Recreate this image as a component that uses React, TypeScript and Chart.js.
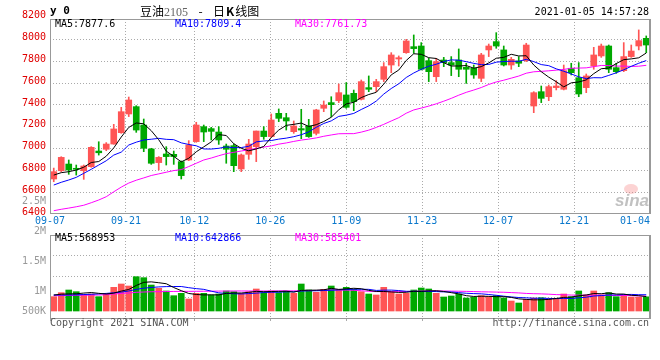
import React, { useEffect, useRef } from 'react';
import { Chart, registerables } from 'chart.js';

Chart.register(...registerables);

// ---------------- data ----------------
const DATES = [
  '09-07','09-08','09-09','09-10','09-11','09-14','09-15','09-16','09-17','09-18',
  '09-21','09-22','09-23','09-24','09-25','09-28','09-29','09-30','10-09','10-12',
  '10-13','10-14','10-15','10-16','10-19','10-20','10-21','10-22','10-23','10-26',
  '10-27','10-28','10-29','10-30','11-02','11-03','11-04','11-05','11-06','11-09',
  '11-10','11-11','11-12','11-13','11-16','11-17','11-18','11-19','11-20','11-23',
  '11-24','11-25','11-26','11-27','11-30','12-01','12-02','12-03','12-04','12-07',
  '12-08','12-09','12-10','12-11','12-14','12-15','12-16','12-17','12-18','12-21',
  '12-22','12-23','12-24','12-25','12-28','12-29','12-30','12-31','01-04','01-05',
];

const OPEN = [
  6722,6798,6859,6820,6798,6835,6978,6994,7042,7146,
  7317,7384,7216,6997,6872,6951,6948,6881,6896,7064,
  7201,7183,7152,7024,7027,6814,6948,7018,7161,7110,
  7323,7283,7155,7183,7207,7140,7369,7421,7439,7491,
  7506,7451,7558,7567,7634,7765,7820,7878,7933,7939,
  7805,7658,7811,7787,7811,7744,7735,7643,7903,7979,
  7903,7765,7802,7805,7390,7521,7475,7558,7543,7735,
  7649,7558,7756,7848,7939,7741,7713,7842,7939,8009,
];
const HIGH = [
  6822,6926,6896,6850,6850,7018,7063,7055,7222,7378,
  7472,7393,7271,7003,6927,7018,6978,6887,7073,7241,
  7216,7195,7201,7042,7042,6951,7085,7161,7201,7317,
  7363,7323,7253,7360,7268,7360,7436,7475,7591,7604,
  7536,7628,7665,7634,7787,7878,7848,8000,8040,7970,
  7826,7826,7835,7842,7912,7781,7765,7872,7957,8061,
  7939,7835,7842,7964,7521,7573,7582,7622,7765,7781,
  7787,7683,7927,7957,7948,7781,7970,7948,8086,8031,
];
const LOW = [
  6697,6789,6765,6758,6719,6829,6941,6981,7040,7140,
  7293,7149,6972,6856,6805,6850,6856,6722,6890,7058,
  7064,7079,7039,6866,6789,6789,6902,6881,7085,7103,
  7247,7170,7140,7091,7103,7125,7338,7293,7421,7369,
  7347,7445,7521,7521,7613,7695,7756,7872,7872,7720,
  7613,7613,7750,7668,7658,7597,7643,7613,7842,7918,
  7756,7726,7750,7796,7329,7421,7439,7537,7537,7674,
  7475,7512,7726,7835,7695,7689,7704,7835,7903,7878,
];
const CLOSE = [
  6789,6920,6804,6811,6841,7012,6962,7042,7180,7338,
  7445,7170,7003,6866,6920,6927,6927,6753,7033,7216,
  7152,7158,7079,6994,6844,6942,7042,7161,7110,7262,
  7277,7253,7207,7170,7110,7354,7399,7402,7512,7378,
  7430,7613,7543,7613,7750,7857,7832,7985,7915,7726,
  7704,7796,7787,7765,7726,7726,7674,7857,7939,7939,
  7765,7817,7781,7948,7512,7460,7567,7573,7713,7695,
  7500,7665,7857,7939,7726,7704,7842,7893,7988,7948,
];

const MA5 = [
  6758,6780,6789,6804,6830,6873,6882,6931,7007,7106,
  7194,7235,7227,7164,7081,6977,6929,6879,6912,6971,
  7016,7062,7128,7120,7045,7003,6980,6997,7020,7103,
  7170,7213,7222,7234,7203,7219,7248,7287,7355,7409,
  7424,7467,7495,7515,7590,7675,7719,7807,7868,7863,
  7832,7825,7786,7756,7756,7760,7736,7750,7784,7827,
  7835,7863,7848,7850,7765,7704,7654,7612,7565,7602,
  7610,7629,7686,7731,7737,7778,7814,7821,7831,7875,
];
const MA10 = [
  6667,6692,6713,6737,6774,6811,6850,6889,6941,6968,
  7033,7059,7079,7086,7094,7085,7082,7053,7038,7026,
  6997,6996,7003,7016,7008,7010,7021,7062,7070,7074,
  7087,7096,7109,7127,7153,7195,7230,7254,7295,7306,
  7322,7358,7391,7435,7499,7550,7593,7651,7692,7726,
  7754,7772,7797,7812,7809,7796,7780,7768,7770,7791,
  7797,7800,7799,7817,7796,7769,7759,7730,7708,7683,
  7657,7641,7649,7648,7670,7694,7721,7753,7781,7806,
];
const MA30 = [
  6432,6445,6456,6468,6482,6505,6530,6560,6605,6648,
  6685,6711,6732,6754,6769,6784,6799,6808,6836,6866,
  6896,6914,6935,6954,6966,6978,6990,7002,7014,7025,
  7041,7052,7066,7078,7087,7098,7113,7125,7136,7137,
  7137,7151,7169,7194,7222,7253,7283,7324,7354,7371,
  7389,7410,7434,7460,7489,7515,7536,7559,7587,7610,
  7626,7645,7664,7690,7703,7707,7712,7718,7725,7735,
  7737,7739,7750,7761,7760,7755,7755,7752,7754,7762,
];

const VOLUME = [
  566000,724000,829000,763000,658000,671000,566000,697000,934000,1066000,
  987000,1355000,1316000,1026000,895000,790000,605000,697000,474000,697000,
  697000,632000,671000,790000,763000,697000,763000,869000,724000,790000,
  724000,790000,697000,1066000,829000,737000,855000,987000,855000,934000,
  855000,763000,671000,632000,934000,763000,671000,697000,829000,908000,
  869000,697000,553000,592000,671000,513000,540000,605000,566000,605000,
  513000,395000,316000,461000,513000,526000,474000,500000,671000,566000,
  790000,632000,790000,632000,724000,566000,632000,550000,545000,560000,
];
const VOL_MA5 = [
  630000,665000,675000,680000,708000,729000,697000,671000,705000,787000,
  850000,1008000,1132000,1150000,1116000,1076000,926000,803000,692000,653000,
  634000,639000,634000,697000,711000,711000,737000,776000,763000,769000,
  774000,779000,745000,813000,821000,824000,837000,895000,853000,874000,
  897000,879000,816000,771000,771000,753000,734000,739000,779000,774000,
  795000,800000,771000,724000,676000,605000,574000,584000,579000,566000,
  566000,537000,479000,458000,440000,442000,458000,495000,537000,547000,
  600000,632000,690000,682000,714000,669000,669000,621000,603000,571000,
];
const VOL_MA10 = [
  632000,632000,632000,640000,650000,660000,675000,695000,720000,747000,
  790000,853000,901000,928000,951000,963000,967000,967000,921000,884000,
  855000,783000,718000,695000,682000,672000,688000,705000,730000,740000,
  742000,758000,761000,788000,795000,799000,808000,820000,833000,847000,
  861000,858000,855000,812000,822000,825000,807000,778000,775000,772000,
  774000,767000,755000,751000,725000,700000,687000,678000,651000,621000,
  586000,555000,532000,519000,503000,504000,497000,487000,497000,494000,
  521000,545000,592000,609000,631000,635000,650000,655000,643000,642000,
];
const VOL_MA30 = [
  605000,610000,615000,620000,625000,628000,632000,645000,670000,695000,
  711000,737000,750000,760000,763000,768000,772000,775000,776000,778000,
  780000,782000,786000,788000,790000,790000,790000,790000,790000,790000,
  796000,798000,793000,804000,809000,811000,821000,831000,828000,824000,
  819000,800000,778000,765000,766000,765000,768000,768000,779000,786000,
  792000,794000,790000,784000,781000,775000,767000,758000,753000,747000,
  740000,727000,714000,694000,683000,676000,664000,647000,641000,629000,
  627000,622000,626000,626000,619000,613000,612000,607000,597000,586000,
];

const X_LABEL_INDEX = [0, 10, 19, 29, 39, 49, 59, 69, 78];
const X_GRID_INDEX = [0, 10, 19, 29, 39, 49, 59, 69];
const PRICE_TICKS = [6400, 6600, 6800, 7000, 7200, 7400, 7600, 7800, 8000, 8200];
const VOL_LABELS = ['500K', '1M', '1.5M', '2M', '2.5M'];

const SYMBOL = 'y 0';
const TITLE_NAME = '豆油';
const TITLE_CODE = '2105';
const TITLE_TAIL_A = '日';
const TITLE_TAIL_K = 'K';
const TITLE_TAIL_B = '线图';
const TIMESTAMP = '2021-01-05 14:57:28';
const PRICE_LEGEND = ['MA5:7877.6', 'MA10:7809.4', 'MA30:7761.73'];
const VOL_LEGEND = ['MA5:568953', 'MA10:642866', 'MA30:585401'];
const COPYRIGHT = 'Copyright 2021 SINA.COM';
const SITE = 'http://finance.sina.com.cn';

// ---------------- styles ----------------
const MONO = '"DejaVu Sans Mono", monospace';
const UP = '#ff5555';
const DOWN = '#00a800';
const GRID = '#aaaaaa';
const FRAME = '#999999';
const LINE_COLORS = ['#000000', '#0000ff', '#ff00ff'];

const candleColor = (i: number) => (CLOSE[i] >= OPEN[i] ? UP : DOWN);

const framePlugin = {
  id: 'frame',
  afterDraw(chart: any) {
    const { ctx, chartArea: a } = chart;
    ctx.save();
    ctx.strokeStyle = FRAME;
    ctx.lineWidth = 1;
    ctx.strokeRect(a.left + 0.5, a.top + 0.5, a.right - a.left - 1, a.bottom - a.top);
    ctx.beginPath();
    ctx.moveTo(a.right + 0.5, a.top);
    ctx.lineTo(a.right + 0.5, a.bottom + 1);
    ctx.stroke();
    ctx.restore();
  },
};

const xLabelPlugin = {
  id: 'xLabels',
  afterDraw(chart: any) {
    const { ctx, chartArea: a } = chart;
    const sx = chart.scales.x2;
    ctx.save();
    ctx.font = '10px ' + MONO;
    ctx.fillStyle = '#0a78cc';
    ctx.textAlign = 'center';
    ctx.textBaseline = 'middle';
    X_LABEL_INDEX.forEach((i) => {
      const t = DATES[i];
      const w = ctx.measureText(t).width;
      const x = Math.min(sx.getPixelForValue(i), a.right - w / 2);
      ctx.fillText(t, x, a.bottom + 8.5);
    });
    ctx.restore();
  },
};

const watermarkPlugin = {
  id: 'watermark',
  beforeDatasetsDraw(chart: any) {
    const { ctx, chartArea: a } = chart;
    ctx.save();
    ctx.fillStyle = 'rgba(245,130,130,0.35)';
    ctx.beginPath();
    ctx.ellipse(a.right - 19, a.bottom - 24, 7, 5, 0, 0, Math.PI * 2);
    ctx.fill();
    ctx.font = 'italic bold 17px "Liberation Sans"';
    ctx.fillStyle = 'rgba(160,160,160,0.65)';
    ctx.textAlign = 'right';
    ctx.textBaseline = 'alphabetic';
    ctx.fillText('sina', a.right - 1, a.bottom - 7);
    ctx.restore();
  },
};

const volLabelPlugin = {
  id: 'volLabels',
  afterDraw(chart: any) {
    const { ctx, chartArea: a } = chart;
    const offsets = [7, 27, 57, 87, 117];
    ctx.save();
    ctx.font = '10px ' + MONO;
    ctx.fillStyle = '#999999';
    ctx.textAlign = 'right';
    ctx.textBaseline = 'middle';
    VOL_LABELS.forEach((t, i) => ctx.fillText(t, a.left - 4, a.bottom - offsets[i]));
    ctx.restore();
  },
};

const lineDs = (label: string, data: number[], color: string) => ({
  type: 'line',
  label,
  data,
  borderColor: color,
  backgroundColor: color,
  borderWidth: 1,
  pointRadius: 0,
  tension: 0,
  fill: false,
  order: 0,
  xAxisID: 'x',
  yAxisID: 'y',
});

const xGridScale = (height: number, drawTicks: boolean) => ({
  type: 'linear',
  position: 'bottom',
  offset: false,
  min: 0,
  max: DATES.length - 1,
  afterBuildTicks: (s: any) => {
    s.ticks = X_GRID_INDEX.map((v) => ({ value: v }));
  },
  afterFit: (s: any) => {
    s.height = height;
  },
  ticks: { display: false, autoSkip: false },
  grid: { offset: false, color: GRID, lineWidth: 1, drawTicks, tickLength: 3 },
  border: { display: false, dash: [1, 2] },
});

const commonOptions = {
  responsive: false,
  animation: false,
  devicePixelRatio: 1,
  events: [],
  plugins: { legend: { display: false }, tooltip: { enabled: false }, title: { display: false } },
};

function T(props: any) {
  const { x, y, right, color = '#000', size = 10, bold = false, family = MONO, children } = props;
  const style: any = {
    position: 'absolute',
    top: y - 7,
    lineHeight: '14px',
    fontSize: size,
    fontFamily: family,
    fontWeight: bold ? 'bold' : 'normal',
    color,
    whiteSpace: 'pre',
  };
  if (right !== undefined) style.right = 660 - right;
  else style.left = x;
  return <div style={style}>{children}</div>;
}

export default function App() {
  const mainRef = useRef<HTMLCanvasElement>(null);
  const volRef = useRef<HTMLCanvasElement>(null);

  useEffect(() => {
    const colors = DATES.map((_, i) => candleColor(i));
    const main = new Chart(mainRef.current as any, {
      type: 'bar',
      data: {
        labels: DATES,
        datasets: [
          lineDs('MA5', MA5, LINE_COLORS[0]),
          lineDs('MA10', MA10, LINE_COLORS[1]),
          lineDs('MA30', MA30, LINE_COLORS[2]),
          {
            type: 'bar',
            label: 'body',
            data: DATES.map((_, i) => [OPEN[i], CLOSE[i]]),
            backgroundColor: colors,
            barThickness: 6,
            minBarLength: 1,
            grouped: false,
            order: 1,
            xAxisID: 'x',
            yAxisID: 'y',
          },
          {
            type: 'bar',
            label: 'wick',
            data: DATES.map((_, i) => [LOW[i], HIGH[i]]),
            backgroundColor: colors,
            barThickness: 1,
            grouped: false,
            order: 2,
            xAxisID: 'x',
            yAxisID: 'y',
          },
        ],
      } as any,
      options: {
        ...commonOptions,
        layout: { padding: { top: 19, right: 10, bottom: 0, left: 0 } },
        scales: {
          x: { type: 'category', display: false, offset: true, grid: { display: false } },
          x2: xGridScale(19, false),
          y: {
            type: 'linear',
            position: 'left',
            min: 6411,
            max: 8186,
            afterBuildTicks: (s: any) => {
              s.ticks = PRICE_TICKS.map((v) => ({ value: v }));
            },
            afterFit: (s: any) => {
              s.width = 50;
            },
            ticks: {
              autoSkip: false,
              color: '#e00000',
              font: { family: MONO, size: 10 },
              padding: 4,
              labelOffset: -2,
              callback: (v: any) => String(v),
            },
            grid: {
              drawTicks: false,
              color: (c: any) =>
                c.tick && (c.tick.value < 6411 || c.tick.value > 8186) ? 'rgba(0,0,0,0)' : GRID,
            },
            border: { display: false, dash: [1, 2] },
          },
        },
      } as any,
      plugins: [watermarkPlugin, framePlugin, xLabelPlugin],
    } as any);

    const vol = new Chart(volRef.current as any, {
      type: 'bar',
      data: {
        labels: DATES,
        datasets: [
          lineDs('VMA5', VOL_MA5, LINE_COLORS[0]),
          lineDs('VMA10', VOL_MA10, LINE_COLORS[1]),
          lineDs('VMA30', VOL_MA30, LINE_COLORS[2]),
          {
            type: 'bar',
            label: 'volume',
            data: VOLUME,
            backgroundColor: colors,
            barThickness: 6,
            order: 1,
            xAxisID: 'x',
            yAxisID: 'y',
          },
        ],
      } as any,
      options: {
        ...commonOptions,
        layout: { padding: { top: 40, right: 10, bottom: 42, left: 0 } },
        scales: {
          x: { type: 'category', display: false, offset: true, grid: { display: false } },
          x2: xGridScale(0, true),
          y: {
            type: 'linear',
            position: 'left',
            min: -276000,
            max: 3000000,
            afterBuildTicks: (s: any) => {
              const n = 4;
              s.ticks = Array.from({ length: n + 1 }, (_, i) => ({ value: s.min + ((s.max - s.min) * i) / n }));
            },
            afterFit: (s: any) => {
              s.width = 50;
            },
            ticks: { display: false },
            grid: { drawTicks: false, color: GRID },
            border: { display: false, dash: [1, 2] },
          },
        },
      } as any,
      plugins: [framePlugin, volLabelPlugin],
    } as any);

    return () => {
      main.destroy();
      vol.destroy();
    };
  }, []);

  const cjk = '"Noto Sans CJK SC", sans-serif';
  return (
    <div style={{ position: 'absolute', left: 0, top: 0, width: 660, height: 360, background: '#fff', overflow: 'hidden' }}>
      <canvas ref={mainRef} width={660} height={232} style={{ position: 'absolute', left: 0, top: 0 }} />
      <canvas ref={volRef} width={660} height={165} style={{ position: 'absolute', left: 0, top: 195 }} />

      <T x={50} y={11} bold size={11}>{SYMBOL}</T>
      <div style={{ position: 'absolute', left: 140, top: 3, lineHeight: '16px', fontSize: 12, fontFamily: cjk, color: '#000', whiteSpace: 'pre' }}>
        <span>{TITLE_NAME}</span>
        <span style={{ fontFamily: '"Liberation Serif", serif', color: '#666' }}>{TITLE_CODE}</span>
        <span style={{ display: 'inline-block', width: 25, textAlign: 'center' }}> - </span>
        <span>{TITLE_TAIL_A}</span>
        <span style={{ fontWeight: 'bold', margin: '0 1px' }}>{TITLE_TAIL_K}</span>
        <span>{TITLE_TAIL_B}</span>
      </div>
      <T right={649} y={12}>{TIMESTAMP}</T>

      <T x={55} y={24} color={LINE_COLORS[0]}>{PRICE_LEGEND[0]}</T>
      <T x={175} y={24} color={LINE_COLORS[1]}>{PRICE_LEGEND[1]}</T>
      <T x={295} y={24} color={LINE_COLORS[2]}>{PRICE_LEGEND[2]}</T>

      <T x={55} y={238} color={LINE_COLORS[0]}>{VOL_LEGEND[0]}</T>
      <T x={175} y={238} color={LINE_COLORS[1]}>{VOL_LEGEND[1]}</T>
      <T x={295} y={238} color={LINE_COLORS[2]}>{VOL_LEGEND[2]}</T>

      <T x={50} y={323} color="#555">{COPYRIGHT}</T>
      <T right={649} y={323} color="#555">{SITE}</T>
    </div>
  );
}
